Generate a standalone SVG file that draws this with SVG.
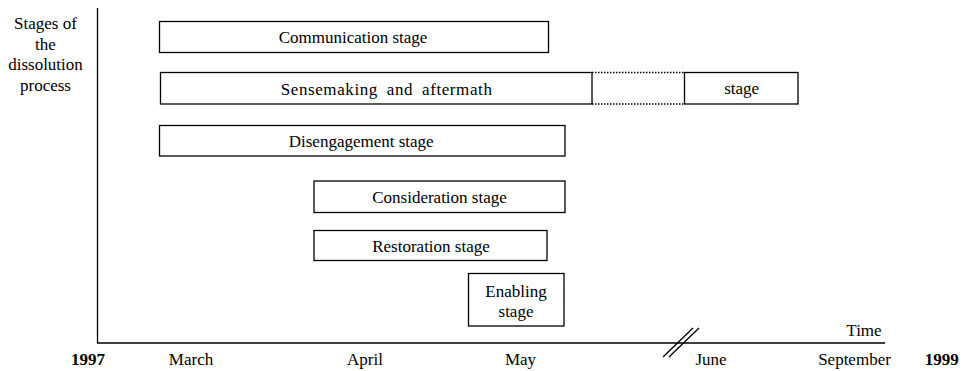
<svg xmlns="http://www.w3.org/2000/svg" width="965" height="371" viewBox="0 0 965 371">
  <style>
    .box { fill: #fff; stroke: #000; stroke-width: 1.3; }
    .dot { fill: none; stroke: #000; stroke-width: 1.3; stroke-dasharray: 1.5 1.5; }
    .ax { fill: none; stroke: #000; stroke-width: 1.3; }
    text { font-family: "Liberation Serif", "Times New Roman", serif; font-size: 17px; fill: #000; }
    .c { text-anchor: middle; }
    .b { font-weight: bold; }
  </style>
  <rect width="965" height="371" fill="#fff"/>

  <!-- axes -->
  <g id="axes">
    <polyline class="ax" points="97.5,8 97.5,343 885,343"/>
    <line class="ax" x1="663" y1="357" x2="693" y2="328"/>
    <line class="ax" x1="669" y1="357" x2="699" y2="328"/>
  </g>

  <g id="y-label">
    <text class="c" x="45.5" y="29">Stages of</text>
    <text class="c" x="45.5" y="49.5">the</text>
    <text class="c" x="45.5" y="70">dissolution</text>
    <text class="c" x="45.5" y="90.5">process</text>
  </g>

  <g id="communication">
    <rect class="box" x="159.5" y="21.5" width="389" height="31"/>
    <text class="c" x="353" y="43.3">Communication stage</text>
  </g>

  <g id="sensemaking">
    <rect class="box" x="160.5" y="72.5" width="431.5" height="31.5"/>
    <text x="280.7" y="94.5" letter-spacing="0.6" word-spacing="4">Sensemaking and aftermath</text>
  </g>
  <g id="sensemaking-gap">
    <path class="dot" d="M592,72.5 H684 M592,104 H684"/>
  </g>
  <g id="sensemaking-end">
    <rect class="box" x="684.5" y="72.5" width="113.5" height="31.5"/>
    <text class="c" x="741.7" y="94">stage</text>
  </g>

  <g id="disengagement">
    <rect class="box" x="159.5" y="125.5" width="405.5" height="30.5"/>
    <text class="c" x="361.2" y="147">Disengagement stage</text>
  </g>

  <g id="consideration">
    <rect class="box" x="314" y="181" width="251" height="31.5"/>
    <text class="c" x="439.5" y="203">Consideration stage</text>
  </g>

  <g id="restoration">
    <rect class="box" x="314" y="230.5" width="233" height="30"/>
    <text class="c" x="431" y="251.8">Restoration stage</text>
  </g>

  <g id="enabling">
    <rect class="box" x="468.5" y="273.5" width="95.5" height="52.5"/>
    <text class="c" x="516" y="297">Enabling</text>
    <text class="c" x="516" y="317">stage</text>
  </g>

  <g id="x-labels">
    <text class="c" x="864" y="336">Time</text>
    <text class="c b" x="88" y="365">1997</text>
    <text class="c" x="191" y="365">March</text>
    <text class="c" x="365" y="365">April</text>
    <text class="c" x="520.5" y="365">May</text>
    <text class="c" x="711" y="365">June</text>
    <text class="c" x="854.5" y="365">September</text>
    <text class="c b" x="941.7" y="365">1999</text>
  </g>
</svg>
